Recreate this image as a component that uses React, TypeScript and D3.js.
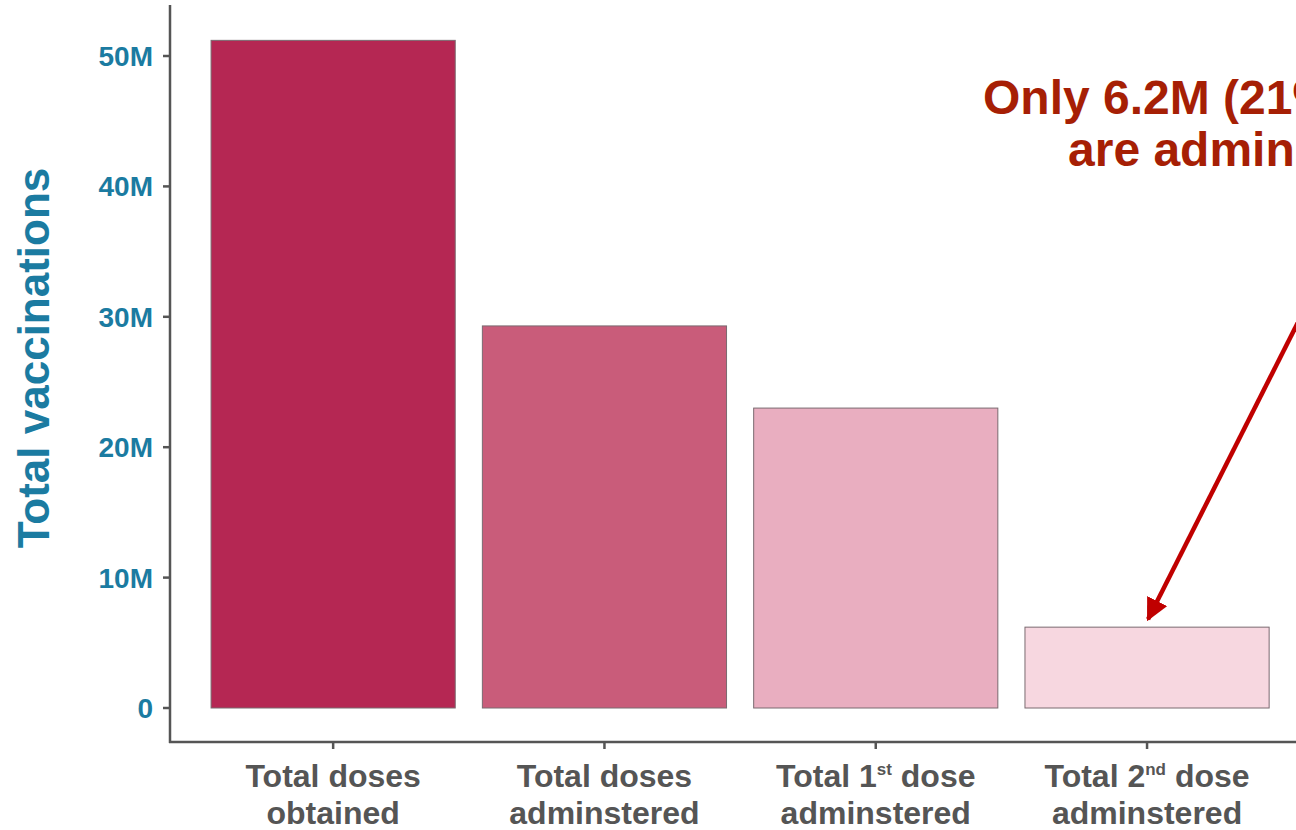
import React from "react";
import * as d3 from "d3";

const categories = ["obtained", "administered", "first", "second"];
const values = [51.2e6, 29.3e6, 23.0e6, 6.2e6];
const barColors = ["#b52753", "#c95c7a", "#e9aec0", "#f7d7e0"];
const labelLine1 = ["Total doses", "Total doses", "Total 1", "Total 2"];
const labelSup = ["", "", "st", "nd"];
const labelLine1b = ["", "", " dose", " dose"];
const labelLine2 = ["obtained", "adminstered", "adminstered", "adminstered"];
const yTicks = [0, 10e6, 20e6, 30e6, 40e6, 50e6];
const annotationLines = ["Only 6.2M (21%) of total doses", "are adminstered as 2nd dose"];

const W = 1296;
const H = 830;
const FONT = "'Liberation Sans', Arial, Helvetica, sans-serif";

export default function App() {
  const x = d3
    .scaleBand<string>()
    .domain(categories)
    .range([197.5, 1282.7])
    .paddingInner(0.1)
    .paddingOuter(0.05);
  const y = d3.scaleLinear().domain([0, 50e6]).range([708, 56]);
  const fmt = (v: number) => (v === 0 ? "0" : `${v / 1e6}M`);

  const axisLeft = 170;
  const axisBottom = 742;
  const tealColor = "#1b7ba1";
  const gray = "#555555";

  const target = categories[3];
  const tipX = (x(target) as number) + x.bandwidth() / 2 + 1;
  const tipY = y(values[3]) - 8;
  const startY = 318;
  const startX = tipX + (tipY - startY) * 0.505;

  return (
    <svg
      width={W}
      height={H}
      style={{ position: "absolute", left: 0, top: 0, background: "#fff" }}
    >
      <defs>
        <marker
          id="arrowHead"
          viewBox="0 0 10 10"
          refX="9"
          refY="5"
          markerWidth="5"
          markerHeight="5"
          orient="auto"
          markerUnits="strokeWidth"
        >
          <path d="M0,0 L10,5 L0,10 Z" fill="#c00000" />
        </marker>
      </defs>

      {/* bars */}
      {categories.map((c, i) => (
        <rect
          key={c}
          x={x(c)}
          y={y(values[i])}
          width={x.bandwidth()}
          height={y(0) - y(values[i])}
          fill={barColors[i]}
          stroke="#7a6a70"
          strokeWidth={1}
        />
      ))}

      {/* y axis */}
      <line x1={axisLeft} x2={axisLeft} y1={5} y2={axisBottom + 1} stroke={gray} strokeWidth={2.5} />
      {yTicks.map((t) => (
        <g key={t}>
          <line x1={axisLeft - 7} x2={axisLeft} y1={y(t)} y2={y(t)} stroke={gray} strokeWidth={2.5} />
          <text
            x={153}
            y={y(t)}
            dy="0.36em"
            textAnchor="end"
            fontFamily={FONT}
            fontWeight="bold"
            fontSize={28}
            fill={tealColor}
          >
            {fmt(t)}
          </text>
        </g>
      ))}

      {/* x axis */}
      <line x1={axisLeft - 1} x2={W} y1={axisBottom} y2={axisBottom} stroke={gray} strokeWidth={2.5} />
      {categories.map((c, i) => {
        const cx = (x(c) as number) + x.bandwidth() / 2;
        return (
          <g key={c}>
            <line x1={cx} x2={cx} y1={axisBottom} y2={axisBottom + 7} stroke={gray} strokeWidth={2.5} />
            <text
              x={cx}
              y={787}
              textAnchor="middle"
              fontFamily={FONT}
              fontWeight="bold"
              fontSize={32}
              fill={gray}
            >
              {labelLine1[i]}
              {labelSup[i] && (
                <tspan fontSize={17} dy={-12}>
                  {labelSup[i]}
                </tspan>
              )}
              {labelLine1b[i] && <tspan dy={12}>{labelLine1b[i]}</tspan>}
            </text>
            <text
              x={cx}
              y={824}
              textAnchor="middle"
              fontFamily={FONT}
              fontWeight="bold"
              fontSize={32}
              fill={gray}
            >
              {labelLine2[i]}
            </text>
          </g>
        );
      })}

      {/* y axis title */}
      <text
        transform={`translate(49, 358) rotate(-90)`}
        textAnchor="middle"
        fontFamily={FONT}
        fontWeight="bold"
        fontSize={44}
        fill={tealColor}
      >
        Total vaccinations
      </text>

      {/* annotation */}
      <text x={983} y={114} fontFamily={FONT} fontWeight="bold" fontSize={48} fill="#a61f05">
        {annotationLines[0]}
      </text>
      <text x={1068} y={166} fontFamily={FONT} fontWeight="bold" fontSize={48} fill="#a61f05">
        {annotationLines[1]}
      </text>
      <line
        x1={startX}
        y1={startY}
        x2={tipX}
        y2={tipY}
        stroke="#c00000"
        strokeWidth={4.5}
        markerEnd="url(#arrowHead)"
      />
    </svg>
  );
}
